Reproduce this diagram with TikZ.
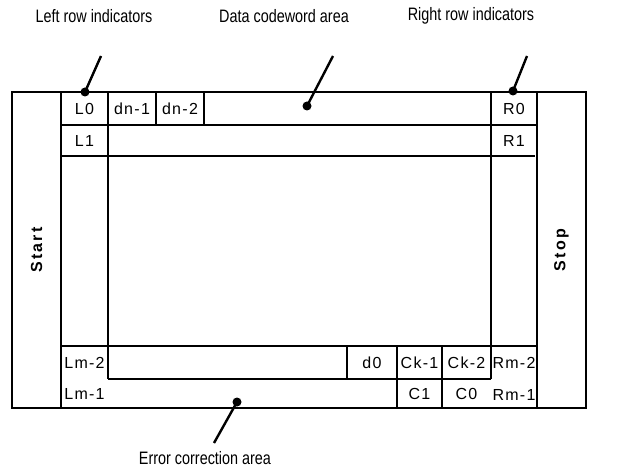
\documentclass[tikz,border=0pt]{standalone}
\usepackage{fontspec}
\setmainfont{Liberation Sans}
\newfontfamily\cellfont[LetterSpace=8]{Liberation Sans}
\newfontfamily\boldcell[LetterSpace=14]{Liberation Sans Bold}
\newfontfamily\headfont[FakeStretch=0.8]{Liberation Sans}
\begin{document}
\begin{tikzpicture}[x=1pt,y=-1pt,
  grid/.style={line width=1.3pt},
  cell/.style={font=\cellfont\fontsize{16}{18}\selectfont, inner sep=0pt, text height=11.5pt, text depth=0pt},
  side/.style={font=\boldcell\fontsize{16}{18}\selectfont, inner sep=0pt, rotate=90},
  head/.style={font=\headfont\fontsize{18}{21}\selectfont, inner sep=0pt},
  leader/.style={line width=2.4pt},
  dotm/.style={circle, fill, inner sep=0pt, minimum size=9pt}]
\useasboundingbox (0,0) rectangle (637,470);
% grid
\draw[grid] (12,92) rectangle (586,408);
\draw[grid] (61,92) -- (61,408);
\draw[grid] (537,92) -- (537,408);
\draw[grid] (108,92) -- (108,379);
\draw[grid] (491,92) -- (491,379);
\draw[grid] (61,125) -- (537,125);
\draw[grid] (61,156) -- (535,156);
\draw[grid] (61,346) -- (537,346);
\draw[grid] (108,379) -- (491,379);
\draw[grid] (156,92) -- (156,125);
\draw[grid] (204,92) -- (204,125);
\draw[grid] (347,346) -- (347,379);
\draw[grid] (397,346) -- (397,408);
\draw[grid] (442,346) -- (442,408);
% cells
\node[cell] (l0) at (84.5,108.5) {L0};
\node[cell] (l1) at (84.5,140.5) {L1};
\node[cell] (dn1) at (132,108.5) {dn-1};
\node[cell] (dn2) at (180,108.5) {dn-2};
\node[cell] (r0) at (514,108.5) {R0};
\node[cell] (r1) at (514,140.5) {R1};
\node[cell] (lm2) at (84.5,362.5) {Lm-2};
\node[cell] (lm1) at (84.5,393.5) {Lm-1};
\node[cell] (d0) at (372,362.5) {d0};
\node[cell] (ck1) at (419.5,362.5) {Ck-1};
\node[cell] (ck2) at (466.5,362.5) {Ck-2};
\node[cell] (rm2) at (514,362.5) {Rm-2};
\node[cell] (c1) at (419.5,393.5) {C1};
\node[cell] (c0) at (466.5,393.5) {C0};
\node[cell] (rm1) at (514,395) {Rm-1};
\node[side] (start) at (36.5,250) {Start};
\node[side] (stop) at (561.5,250) {Stop};
% headings
\node[head] (hl) at (94,16) {Left row indicators};
\node[head] (hd) at (284,16) {Data codeword area};
\node[head] (hr) at (471,16) {Right row indicators};
\node[head] (he) at (205,458) {Error correction area};
% dots and leaders
\node[dotm] (dl) at (85,92) {};
\node[dotm] (dd) at (307,106) {};
\node[dotm] (dr) at (513,91) {};
\node[dotm] (de) at (237,402) {};
\coordinate (tl) at (101,56);
\coordinate (td) at (333,56);
\coordinate (tr) at (527,56);
\coordinate (te) at (214,443);
\draw[leader] (dl.center) -- (tl);
\draw[leader] (dd.center) -- (td);
\draw[leader] (dr.center) -- (tr);
\draw[leader] (de.center) -- (te);
\end{tikzpicture}
\end{document}
